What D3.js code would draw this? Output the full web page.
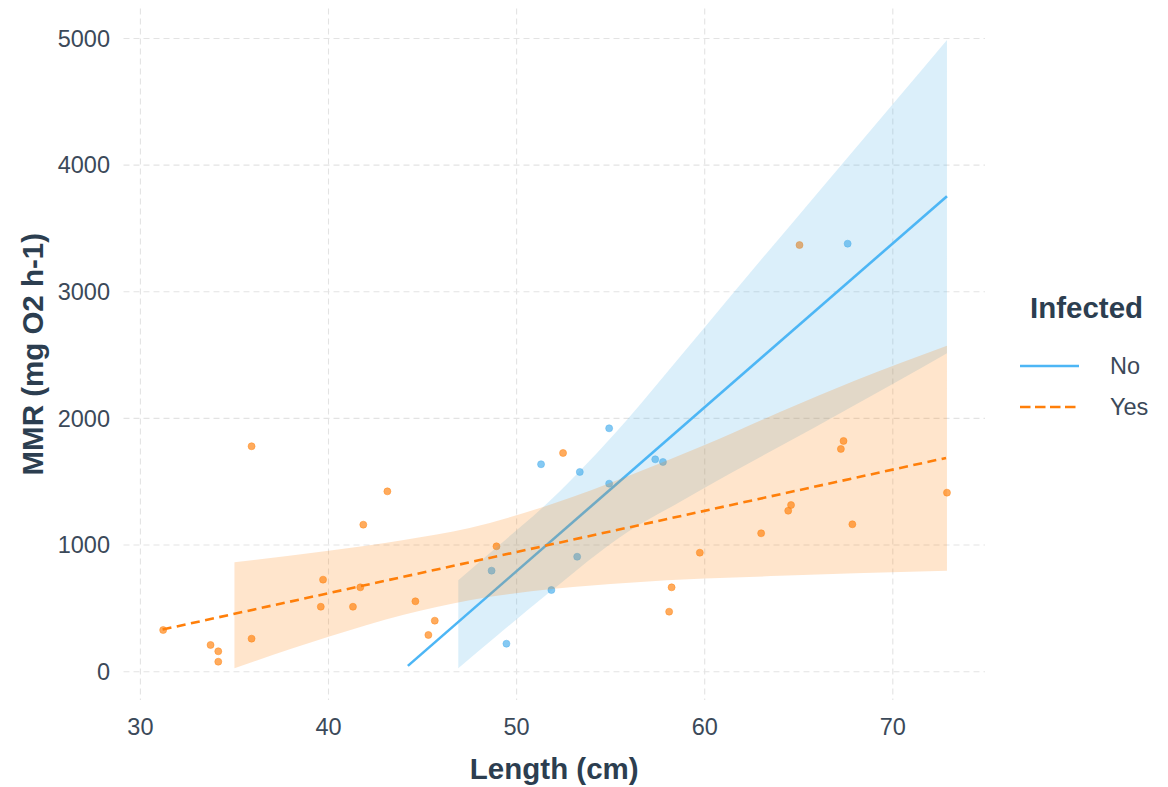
<!DOCTYPE html>
<html>
<head>
<meta charset="utf-8">
<script src="https://cdn.jsdelivr.net/npm/d3@7"></script>
<style>
  html, body { margin: 0; padding: 0; background: #ffffff; }
  svg { display: block; font-family: "Liberation Sans", Arial, sans-serif; }
</style>
</head>
<body>
<svg id="chart" width="1168" height="787"></svg>
<script>
// Fish length vs maximum metabolic rate, split by infection status

const xTicks = [30, 40, 50, 60, 70];
const yTicks = [0, 1000, 2000, 3000, 4000, 5000];
const groups = ["No", "Yes"];

// Observations: length (cm) and MMR (mg O2 h-1)
const noLength = [48.67, 49.46, 51.30, 51.85, 53.22, 53.36, 54.92, 54.92, 57.37, 57.78, 67.60];
const noMMR    = [798, 221, 1638, 645, 908, 1577, 1922, 1485, 1677, 1656, 3380];

const yesLength = [31.21, 33.73, 34.14, 34.14, 35.91, 35.91, 39.59, 39.71, 41.30, 41.69, 41.85, 43.13,
                   44.62, 45.31, 45.65, 48.93, 52.47, 58.11, 58.24, 59.74, 63.00, 64.44, 64.59, 65.04,
                   67.24, 67.38, 67.85, 72.88];
const yesMMR    = [329, 211, 161, 79, 1780, 261, 513, 727, 513, 666, 1161, 1424,
                   556, 290, 403, 990, 1727, 474, 666, 940, 1093, 1271, 1316, 3369,
                   1759, 1822, 1164, 1414];

// Fitted lines (end points of each fit)
const noFitX  = [44.22, 72.88];
const noFitY  = [46, 3755];
const yesFitX = [31.18, 72.83];
const yesFitY = [333, 1688];

// Confidence bands
const noBandX  = [46.9, 49.0, 51.7, 55.86, 58.7, 61.35, 65.79, 70.04, 72.88];
const noBandLo = [27, 290, 621, 1100, 1342, 1565, 1925, 2275, 2514];
const noBandHi = [723, 990, 1340, 1988, 2488, 2961, 3743, 4488, 4988];

const yesBandX  = [35.0, 40.0, 44.0, 47.5, 52.0, 56.0, 60.0, 64.0, 68.0, 72.88];
const yesBandLo = [27, 276, 450, 565, 655, 703, 735, 757, 777, 797];
const yesBandHi = [864, 955, 1040, 1135, 1330, 1550, 1790, 2050, 2300, 2574];

const colNo = "#4db6f5";
const colYes = "#ff7f0a";
const pointNo = "#56b4ee";
const pointYes = "#ff8a1e";

const svg = d3.select("#chart");

const panel = { left: 123.5, right: 985, top: 8.5, bottom: 700 };

const x = d3.scaleLinear().domain([30, 70]).range([140.4, 892.8]);
const y = d3.scaleLinear().domain([0, 5000]).range([671.7, 38.5]);

// grid
const grid = svg.append("g").attr("stroke", "#e3e3e3").attr("stroke-width", 1.1)
  .attr("stroke-dasharray", "6,4").attr("fill", "none");
grid.selectAll("line.v").data(xTicks).join("line")
  .attr("class", "v")
  .attr("x1", d => x(d)).attr("x2", d => x(d))
  .attr("y1", panel.top).attr("y2", panel.bottom);
grid.selectAll("line.h").data(yTicks).join("line")
  .attr("class", "h")
  .attr("x1", panel.left).attr("x2", panel.right)
  .attr("y1", d => y(d)).attr("y2", d => y(d));

const plot = svg.append("g");

// points
const pts = [
  ...noLength.map((v, i) => ({ x: v, y: noMMR[i], g: "No" })),
  ...yesLength.map((v, i) => ({ x: v, y: yesMMR[i], g: "Yes" }))
];
plot.append("g").selectAll("circle").data(pts).join("circle")
  .attr("cx", d => x(d.x)).attr("cy", d => y(d.y)).attr("r", 3.5)
  .attr("fill", d => d.g === "No" ? pointNo : pointYes)
  .attr("fill-opacity", 0.72)
  .attr("stroke", d => d.g === "No" ? pointNo : pointYes)
  .attr("stroke-opacity", 0.85).attr("stroke-width", 0.6);

const area = d3.area().curve(d3.curveMonotoneX)
  .x(d => x(d[0])).y0(d => y(d[1])).y1(d => y(d[2]));
const line = d3.line().x(d => x(d[0])).y(d => y(d[1]));

// "No" band + line
plot.append("path")
  .attr("d", area(noBandX.map((v, i) => [v, noBandLo[i], noBandHi[i]])))
  .attr("fill", "#56b4e9").attr("fill-opacity", 0.21);
plot.append("path")
  .attr("d", line(noFitX.map((v, i) => [v, noFitY[i]])))
  .attr("fill", "none").attr("stroke", colNo).attr("stroke-width", 2.6);

// "Yes" band + line
plot.append("path")
  .attr("d", area(yesBandX.map((v, i) => [v, yesBandLo[i], yesBandHi[i]])))
  .attr("fill", "#ff7f00").attr("fill-opacity", 0.2);
plot.append("path")
  .attr("d", line(yesFitX.map((v, i) => [v, yesFitY[i]])))
  .attr("fill", "none").attr("stroke", colYes).attr("stroke-width", 2.6)
  .attr("stroke-dasharray", "9,5.5");

// axes labels
const tickCol = "#3b4959";
const titleCol = "#2c3e50";

svg.append("g").selectAll("text").data(xTicks).join("text")
  .attr("x", d => x(d)).attr("y", 735)
  .attr("text-anchor", "middle")
  .attr("font-size", 23.5).attr("fill", tickCol)
  .text(d => d);

svg.append("g").selectAll("text").data(yTicks).join("text")
  .attr("x", 110).attr("y", d => y(d)).attr("dy", "0.35em")
  .attr("text-anchor", "end")
  .attr("font-size", 23.5).attr("fill", tickCol)
  .text(d => d);

svg.append("text")
  .attr("x", (panel.left + panel.right) / 2).attr("y", 779)
  .attr("text-anchor", "middle").attr("font-weight", "bold")
  .attr("font-size", 29.5).attr("fill", titleCol)
  .text("Length (cm)");

svg.append("text")
  .attr("transform", `translate(43, ${(panel.top + panel.bottom) / 2}) rotate(-90)`)
  .attr("text-anchor", "middle").attr("font-weight", "bold")
  .attr("font-size", 29.5).attr("fill", titleCol)
  .text("MMR (mg O2 h-1)");

// legend
const legend = svg.append("g");
legend.append("text")
  .attr("x", 1030).attr("y", 318)
  .attr("font-weight", "bold").attr("font-size", 29.5).attr("fill", titleCol)
  .text("Infected");

const keyY = d3.scalePoint().domain(groups).range([366, 407]);
legend.selectAll("line").data(groups).join("line")
  .attr("x1", 1020).attr("x2", 1079)
  .attr("y1", d => keyY(d)).attr("y2", d => keyY(d))
  .attr("stroke", d => d === "No" ? colNo : colYes)
  .attr("stroke-width", 2.6)
  .attr("stroke-dasharray", d => d === "No" ? null : "10.5,4.5");
legend.selectAll("text.lab").data(groups).join("text")
  .attr("class", "lab")
  .attr("x", 1110).attr("y", d => keyY(d)).attr("dy", "0.35em")
  .attr("font-size", 23.5).attr("fill", tickCol)
  .text(d => d);
</script>
</body>
</html>
